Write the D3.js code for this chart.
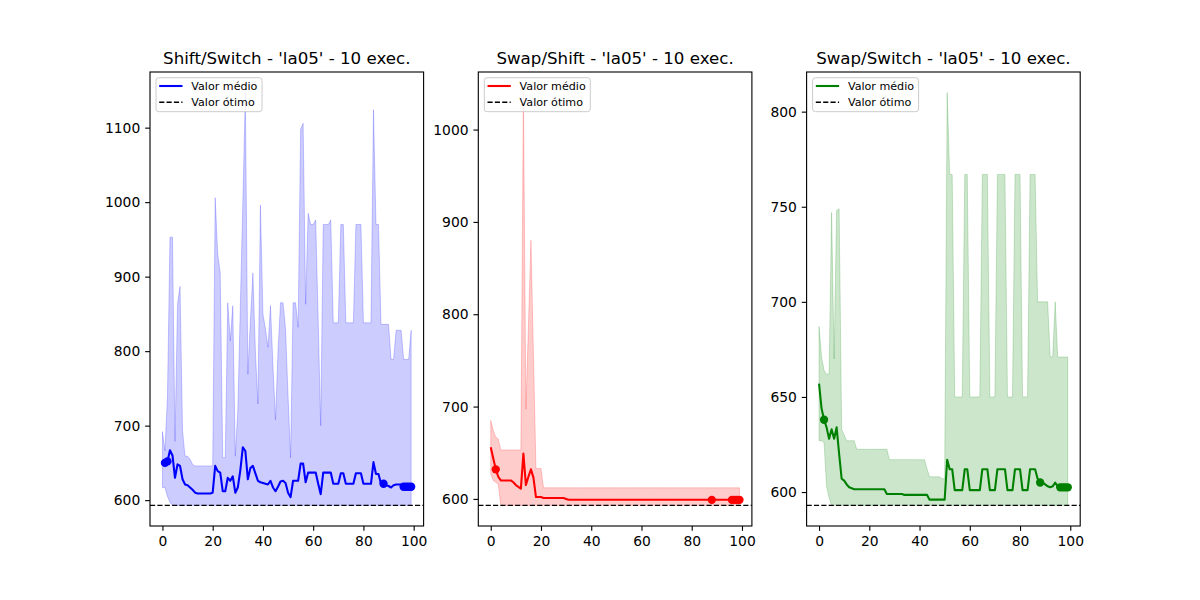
<!DOCTYPE html>
<html>
<head>
<meta charset="utf-8">
<script src="https://cdn.jsdelivr.net/npm/d3@7"></script>
<style>
  body { margin: 0; background: #fff; }
  text { font-family: "DejaVu Sans", sans-serif; }
</style>
</head>
<body>
<svg id="chart" width="1200" height="600"></svg>
<script>
// optimum for la05
var optimum = 593;

var titles = [
  "Shift/Switch - 'la05' - 10 exec.",
  "Swap/Shift - 'la05' - 10 exec.",
  "Swap/Switch - 'la05' - 10 exec."
];

var legendLabels = ["Valor médio", "Valor ótimo"];

var xTicks = [0, 20, 40, 60, 80, 100];
var yTicksShiftSwitch = [600, 700, 800, 900, 1000, 1100];
var yTicksSwapShift = [600, 700, 800, 900, 1000];
var yTicksSwapSwitch = [600, 650, 700, 750, 800];

// Shift/Switch
var shiftSwitchMean = [
  653, 650, 652, 667, 660, 630, 648, 646, 628, 621,
  620, 617, 614, 610, 609, 609, 609, 609, 609, 609,
  610, 646, 639, 637, 612, 612, 630, 626, 632, 610,
  617, 640, 671, 666, 628, 643, 646, 636, 626, 624,
  623, 622, 621, 626, 617, 612, 618, 625, 626, 623,
  610, 604, 626, 626, 626, 649, 649, 624, 637, 637,
  637, 637, 622, 608, 637, 637, 637, 637, 622, 622,
  622, 636, 636, 622, 622, 622, 622, 636, 636, 636,
  622, 622, 622, 622, 651, 635, 635, 622, 622, 620,
  619, 617, 620, 621, 621, 621, 618, 618, 618, 618
];
var shiftSwitchMax = [
  692, 666, 740, 953, 953, 679, 863, 887, 693, 659,
  659, 655, 648, 646, 646, 646, 646, 646, 646, 646,
  646, 1006, 931, 905, 657, 657, 865, 814, 861, 659,
  720, 860, 1000, 1147, 769, 840, 905, 800, 729, 996,
  850, 830, 805, 861, 780, 708, 800, 865, 865, 830,
  740, 657, 865, 865, 832, 1098, 1106, 863, 985, 970,
  970, 976, 840, 700, 970, 970, 970, 976, 838, 838,
  838, 970, 970, 838, 838, 838, 838, 970, 970, 970,
  838, 838, 838, 838, 1124, 970, 970, 836, 836, 836,
  836, 789, 789, 828, 828, 828, 789, 789, 789, 828
];
var shiftSwitchMin = [
  617, 617, 605, 597, 593, 593, 593, 593, 593, 593,
  593, 593, 593, 593, 593, 593, 593, 593, 593, 593,
  593, 593, 593, 593, 593, 593, 593, 593, 593, 593,
  593, 593, 593, 593, 593, 593, 593, 593, 593, 593,
  593, 593, 593, 593, 593, 593, 593, 593, 593, 593,
  593, 593, 593, 593, 593, 593, 593, 593, 593, 593,
  593, 593, 593, 593, 593, 593, 593, 593, 593, 593,
  593, 593, 593, 593, 593, 593, 593, 593, 593, 593,
  593, 593, 593, 593, 593, 593, 593, 593, 593, 593,
  593, 593, 593, 593, 593, 593, 593, 593, 593, 593
];
var shiftSwitchMarkers = [1, 2, 88, 96, 97, 98, 99];

// Swap/Shift
var swapShiftMean = [
  656, 644, 632, 624, 620, 620, 620, 620, 620, 618,
  615, 613, 611, 649, 615, 624, 632, 623, 602, 602,
  602, 601, 601, 601, 601, 601, 601, 601, 601, 601,
  600, 599, 599, 599, 599, 599, 599, 599, 599, 599,
  599, 599, 599, 599, 599, 599, 599, 599, 599, 599,
  599, 599, 599, 599, 599, 599, 599, 599, 599, 599,
  599, 599, 599, 599, 599, 599, 599, 599, 599, 599,
  599, 599, 599, 599, 599, 599, 599, 599, 599, 599,
  599, 599, 599, 599, 599, 599, 599, 599, 599, 599,
  599, 599, 599, 599, 599, 599, 599, 599, 599, 599
];
var swapShiftMax = [
  685, 674, 667, 665, 653, 653, 653, 653, 653, 653,
  653, 653, 653, 1040, 697, 788, 880, 756, 633, 633,
  633, 612, 612, 612, 612, 612, 612, 612, 612, 612,
  612, 612, 612, 612, 612, 612, 612, 612, 612, 612,
  612, 612, 612, 612, 612, 612, 612, 612, 612, 612,
  612, 612, 612, 612, 612, 612, 612, 612, 612, 612,
  612, 612, 612, 612, 612, 612, 612, 612, 612, 612,
  612, 612, 612, 612, 612, 612, 612, 612, 612, 612,
  612, 612, 612, 612, 612, 612, 612, 612, 612, 612,
  612, 612, 612, 612, 612, 612, 612, 612, 612, 612
];
var swapShiftMin = [
  627, 620, 618, 616, 593, 593, 593, 593, 593, 593,
  593, 593, 593, 593, 593, 593, 593, 593, 593, 593,
  593, 593, 593, 593, 593, 593, 593, 593, 593, 593,
  593, 593, 593, 593, 593, 593, 593, 593, 593, 593,
  593, 593, 593, 593, 593, 593, 593, 593, 593, 593,
  593, 593, 593, 593, 593, 593, 593, 593, 593, 593,
  593, 593, 593, 593, 593, 593, 593, 593, 593, 593,
  593, 593, 593, 593, 593, 593, 593, 593, 593, 593,
  593, 593, 593, 593, 593, 593, 593, 593, 593, 593,
  593, 593, 593, 593, 593, 593, 593, 593, 593, 593
];
var swapShiftMarkers = [2, 88, 96, 97, 98, 99];

// Swap/Switch
var swapSwitchMean = [
  657, 644, 638, 634, 628, 633, 628, 634, 620, 607,
  606, 604, 602.5, 602, 601.5, 601.5, 601.5, 601.5, 601.5, 601.5,
  601.5, 601.5, 601.5, 601.5, 601.5, 601.5, 601.5, 599, 599, 599,
  599, 599, 599, 599, 598.5, 598.5, 598.5, 598.5, 598.5, 598.5,
  598.5, 598.5, 598.5, 598.5, 596, 596, 596, 596, 596, 596,
  596, 617, 612, 612, 601, 601, 601, 601, 612, 612,
  601, 601, 601, 601, 601, 612, 612, 612, 601, 601,
  601, 612, 612, 612, 612, 601, 601, 601, 612, 612,
  612, 601, 601, 601, 612, 612, 612, 607, 605, 605,
  604, 603, 602.5, 603, 605, 603, 602.5, 602.5, 602.5, 602.5
];
var swapSwitchMax = [
  687, 671, 664, 662, 662, 747, 670, 748, 749, 633,
  630, 627, 627, 627, 627, 622.5, 622.5, 622.5, 622.5, 622.5,
  622.5, 622.5, 622.5, 622.5, 622.5, 622.5, 622.5, 622.5, 617, 617,
  617, 617, 617, 617, 617, 617, 617, 617, 617, 617,
  617, 617, 617, 612, 608, 608, 608, 608, 608, 607,
  607, 810, 767, 767, 650, 650, 650, 650, 767, 767,
  650, 650, 650, 650, 650, 767, 767, 767, 650, 650,
  650, 767, 767, 767, 767, 650, 650, 650, 767, 767,
  767, 650, 650, 650, 767, 767, 767, 700, 700, 700,
  700, 700, 671, 671, 700, 671, 671, 671, 671, 671
];
var swapSwitchMin = [
  627, 627, 626, 603, 597, 593, 593, 593, 593, 593,
  593, 593, 593, 593, 593, 593, 593, 593, 593, 593,
  593, 593, 593, 593, 593, 593, 593, 593, 593, 593,
  593, 593, 593, 593, 593, 593, 593, 593, 593, 593,
  593, 593, 593, 593, 593, 593, 593, 593, 593, 593,
  593, 593, 593, 593, 593, 593, 593, 593, 593, 593,
  593, 593, 593, 593, 593, 593, 593, 593, 593, 593,
  593, 593, 593, 593, 593, 593, 593, 593, 593, 593,
  593, 593, 593, 593, 593, 593, 593, 593, 593, 593,
  593, 593, 593, 593, 593, 593, 593, 593, 593, 593
];
var swapSwitchMarkers = [2, 88, 96, 97, 98, 99];

var panels = [
  {title: titles[0], color: "#0000ff", mean: shiftSwitchMean, max: shiftSwitchMax, min: shiftSwitchMin, markers: shiftSwitchMarkers, yTicks: yTicksShiftSwitch},
  {title: titles[1], color: "#ff0000", mean: swapShiftMean, max: swapShiftMax, min: swapShiftMin, markers: swapShiftMarkers, yTicks: yTicksSwapShift},
  {title: titles[2], color: "#008000", mean: swapSwitchMean, max: swapSwitchMax, min: swapSwitchMin, markers: swapSwitchMarkers, yTicks: yTicksSwapSwitch}
];

var svg = d3.select("#chart");
var plotTop = 72, plotH = 454, plotW = 273.6, plotGap = 54.7, plotLeft0 = 150;
var pt = 100 / 72; // matplotlib points -> px at 100 dpi

panels.forEach(function (p, k) {
  var plotLeft = plotLeft0 + k * (plotW + plotGap);
  var n = p.mean.length;

  // matplotlib-like 5% margins
  var xPad = 0.05 * (n - 1);
  var x = d3.scaleLinear().domain([-xPad, n - 1 + xPad]).range([0, plotW]);
  var lo = d3.min(p.min), hi = d3.max(p.max);
  var yPad = 0.05 * (hi - lo);
  var y = d3.scaleLinear().domain([lo - yPad, hi + yPad]).range([plotH, 0]);

  var g = svg.append("g").attr("transform", "translate(" + plotLeft + "," + plotTop + ")");

  var area = d3.area()
    .x(function (d, i) { return x(i); })
    .y0(function (d, i) { return y(p.min[i]); })
    .y1(function (d) { return y(d); });

  g.append("path")
    .datum(p.max)
    .attr("d", area)
    .attr("fill", p.color)
    .attr("fill-opacity", 0.2)
    .attr("stroke", p.color)
    .attr("stroke-opacity", 0.2)
    .attr("stroke-width", 1);

  var line = d3.line()
    .x(function (d, i) { return x(i); })
    .y(function (d) { return y(d); });

  g.append("path")
    .datum(p.mean)
    .attr("d", line)
    .attr("fill", "none")
    .attr("stroke", p.color)
    .attr("stroke-width", 1.5 * pt)
    .attr("stroke-linejoin", "round");

  g.selectAll("circle.mk")
    .data(p.markers)
    .enter().append("circle")
    .attr("class", "mk")
    .attr("cx", function (i) { return x(i); })
    .attr("cy", function (i) { return y(p.mean[i]); })
    .attr("r", 3 * pt)
    .attr("fill", p.color);

  var dash = (3.7 * pt) + "," + (1.6 * pt);
  g.append("line")
    .attr("x1", 0).attr("x2", plotW)
    .attr("y1", y(optimum)).attr("y2", y(optimum))
    .attr("stroke", "#000")
    .attr("stroke-width", pt)
    .attr("stroke-dasharray", dash);

  // axes
  var xAxis = d3.axisBottom(x).tickValues(xTicks).tickFormat(d3.format("d"))
    .tickSize(3.5 * pt).tickSizeOuter(0).tickPadding(3.5 * pt);
  var yAxis = d3.axisLeft(y).tickValues(p.yTicks).tickFormat(d3.format("d"))
    .tickSize(3.5 * pt).tickSizeOuter(0).tickPadding(3.5 * pt);

  var gx = g.append("g").attr("transform", "translate(0," + plotH + ")").call(xAxis);
  var gy = g.append("g").call(yAxis);
  [gx, gy].forEach(function (a) {
    a.select(".domain").remove();
    a.selectAll(".tick line").attr("stroke", "#000").attr("stroke-width", 0.8 * pt);
    a.selectAll(".tick text")
      .attr("fill", "#000")
      .style("font-family", "'DejaVu Sans', sans-serif")
      .style("font-size", (10 * pt) + "px");
  });

  g.append("rect")
    .attr("width", plotW).attr("height", plotH)
    .attr("fill", "none")
    .attr("stroke", "#000")
    .attr("stroke-width", 0.8 * pt);

  g.append("text")
    .attr("x", plotW / 2)
    .attr("y", -6 * pt)
    .attr("text-anchor", "middle")
    .style("font-size", (12 * pt) + "px")
    .text(p.title);

  // legend
  var lg = g.append("g").attr("transform", "translate(6,5.7)");
  lg.append("rect")
    .attr("width", 106).attr("height", 34)
    .attr("rx", 2.8)
    .attr("fill", "#fff").attr("fill-opacity", 0.8)
    .attr("stroke", "#cccccc").attr("stroke-width", 1);
  var entries = [
    {label: legendLabels[0], color: p.color, dash: null, w: 1.5 * pt},
    {label: legendLabels[1], color: "#000", dash: dash, w: pt}
  ];
  entries.forEach(function (e, j) {
    var ey = 8.3 + j * 16.3;
    lg.append("line")
      .attr("x1", 3.2).attr("x2", 26.5)
      .attr("y1", ey).attr("y2", ey)
      .attr("stroke", e.color)
      .attr("stroke-width", e.w)
      .attr("stroke-dasharray", e.dash);
    lg.append("text")
      .attr("x", 35.3)
      .attr("y", ey + 3.9)
      .style("font-size", (8 * pt) + "px")
      .text(e.label);
  });
});
</script>
</body>
</html>
